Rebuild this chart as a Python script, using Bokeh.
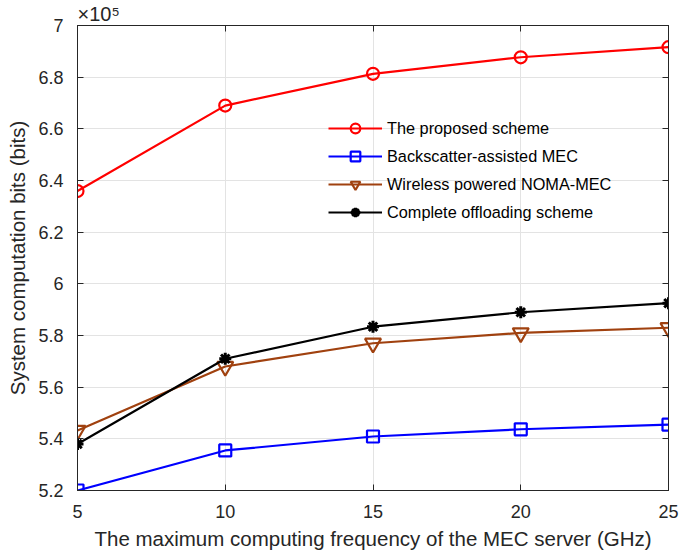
from bokeh.plotting import figure
from bokeh.models import (Range1d, LinearAxis, FixedTicker, Legend, LegendItem, Title)
from bokeh.embed import file_html
from bokeh.resources import INLINE

# ---- data (bits) ----
freq_ghz = [5, 10, 15, 20, 25]
proposed = [635900, 669000, 681300, 687700, 691600]
backscatter = [520000, 535500, 540900, 543700, 545500]
noma_mec = [543200, 568000, 577000, 581000, 583000]
complete_off = [538000, 571000, 583400, 589000, 592500]

x_ticks = [5, 10, 15, 20, 25]
y_ticks = [520000, 540000, 560000, 580000, 600000, 620000, 640000,
           660000, 680000, 700000]
y_tick_labels = ["5.2", "5.4", "5.6", "5.8", "6", "6.2", "6.4", "6.6", "6.8", "7"]
x_title = "The maximum computing frequency of the MEC server (GHz)"
y_title = "System computation bits (bits)"
exp_label = "×10⁵"

FONT = "Liberation Sans"
AX = "#262626"

p = figure(width=685, height=559, output_backend="svg", toolbar_location=None,
           x_range=Range1d(5, 25), y_range=Range1d(520000, 700000),
           min_border_left=77, min_border_right=17, min_border_top=25,
           min_border_bottom=69)
p.outline_line_color = AX
p.outline_line_width = 1
p.background_fill_color = "white"

def style_axis(ax, labels=True):
    ax.axis_line_color = AX
    ax.major_tick_line_color = AX
    ax.major_tick_in = 6
    ax.major_tick_out = 0
    ax.minor_tick_line_color = None
    ax.major_label_text_font = FONT
    if labels:
        ax.major_label_text_color = AX
        ax.major_label_text_font_size = "18px"
    else:
        ax.major_label_text_color = None
        ax.major_label_text_font_size = "1px"
        ax.major_label_standoff = 0

# bottom / left
p.xaxis.ticker = FixedTicker(ticks=x_ticks)
p.yaxis.ticker = FixedTicker(ticks=y_ticks)
p.yaxis.major_label_overrides = {t: l for t, l in zip(y_ticks, y_tick_labels)}
style_axis(p.xaxis[0])
style_axis(p.yaxis[0])
p.xaxis.major_label_standoff = 14
p.yaxis.major_label_standoff = 14
p.yaxis.axis_label = y_title
p.yaxis.axis_label_text_font = FONT
p.yaxis.axis_label_text_font_size = "20.5px"
p.yaxis.axis_label_text_font_style = "normal"
p.yaxis.axis_label_text_color = AX
p.yaxis.axis_label_standoff = 6

# top / right tick-only axes (box)
top = LinearAxis(ticker=FixedTicker(ticks=x_ticks))
right = LinearAxis(ticker=FixedTicker(ticks=y_ticks))
style_axis(top, labels=False)
style_axis(right, labels=False)
p.add_layout(top, "above")
p.add_layout(right, "right")

# exponent note above the frame, and x-axis title below
p.add_layout(Title(text=exp_label, align="left", offset=0, standoff=1,
                   text_font=FONT, text_font_size="20px",
                   text_font_style="normal", text_color=AX), "above")
p.add_layout(Title(text=x_title, align="center", offset=7, standoff=8,
                   text_font=FONT, text_font_size="20.5px",
                   text_font_style="normal", text_color=AX), "below")

p.xgrid.ticker = FixedTicker(ticks=x_ticks)
p.ygrid.ticker = FixedTicker(ticks=y_ticks)
p.grid.grid_line_color = "#e3e3e3"
p.grid.grid_line_width = 1

series = [
    ("The proposed scheme", proposed, "#ff0000", "circle", 12),
    ("Backscatter-assisted MEC", backscatter, "#0000ff", "square", 12),
    ("Wireless powered NOMA-MEC", noma_mec, "#a0410f", "inverted_triangle", 16),
    ("Complete offloading scheme", complete_off, "#000000", "asterisk", 12),
]
items = []
for name, ys, col, mk, sz in series:
    r1 = p.line(freq_ghz, ys, line_color=col, line_width=2.2)
    r2 = p.scatter(freq_ghz, ys, marker=mk, size=sz, line_color=col,
                   fill_color=None if mk != "asterisk" else col,
                   line_width=2.2 if mk != "asterisk" else 3)
    items.append(LegendItem(label=name, renderers=[r1, r2]))

legend = Legend(items=items, location=(251, 266))
legend.background_fill_alpha = 0
legend.border_line_alpha = 0
legend.padding = 0
legend.margin = 0
legend.spacing = 4
legend.glyph_height = 24
legend.label_height = 24
legend.glyph_width = 54
legend.label_standoff = 5
legend.label_text_font = FONT
legend.label_text_font_size = "16.3px"
legend.label_text_color = "#000000"
p.add_layout(legend, "center")

open("out.html", "w").write(file_html(p, INLINE))
